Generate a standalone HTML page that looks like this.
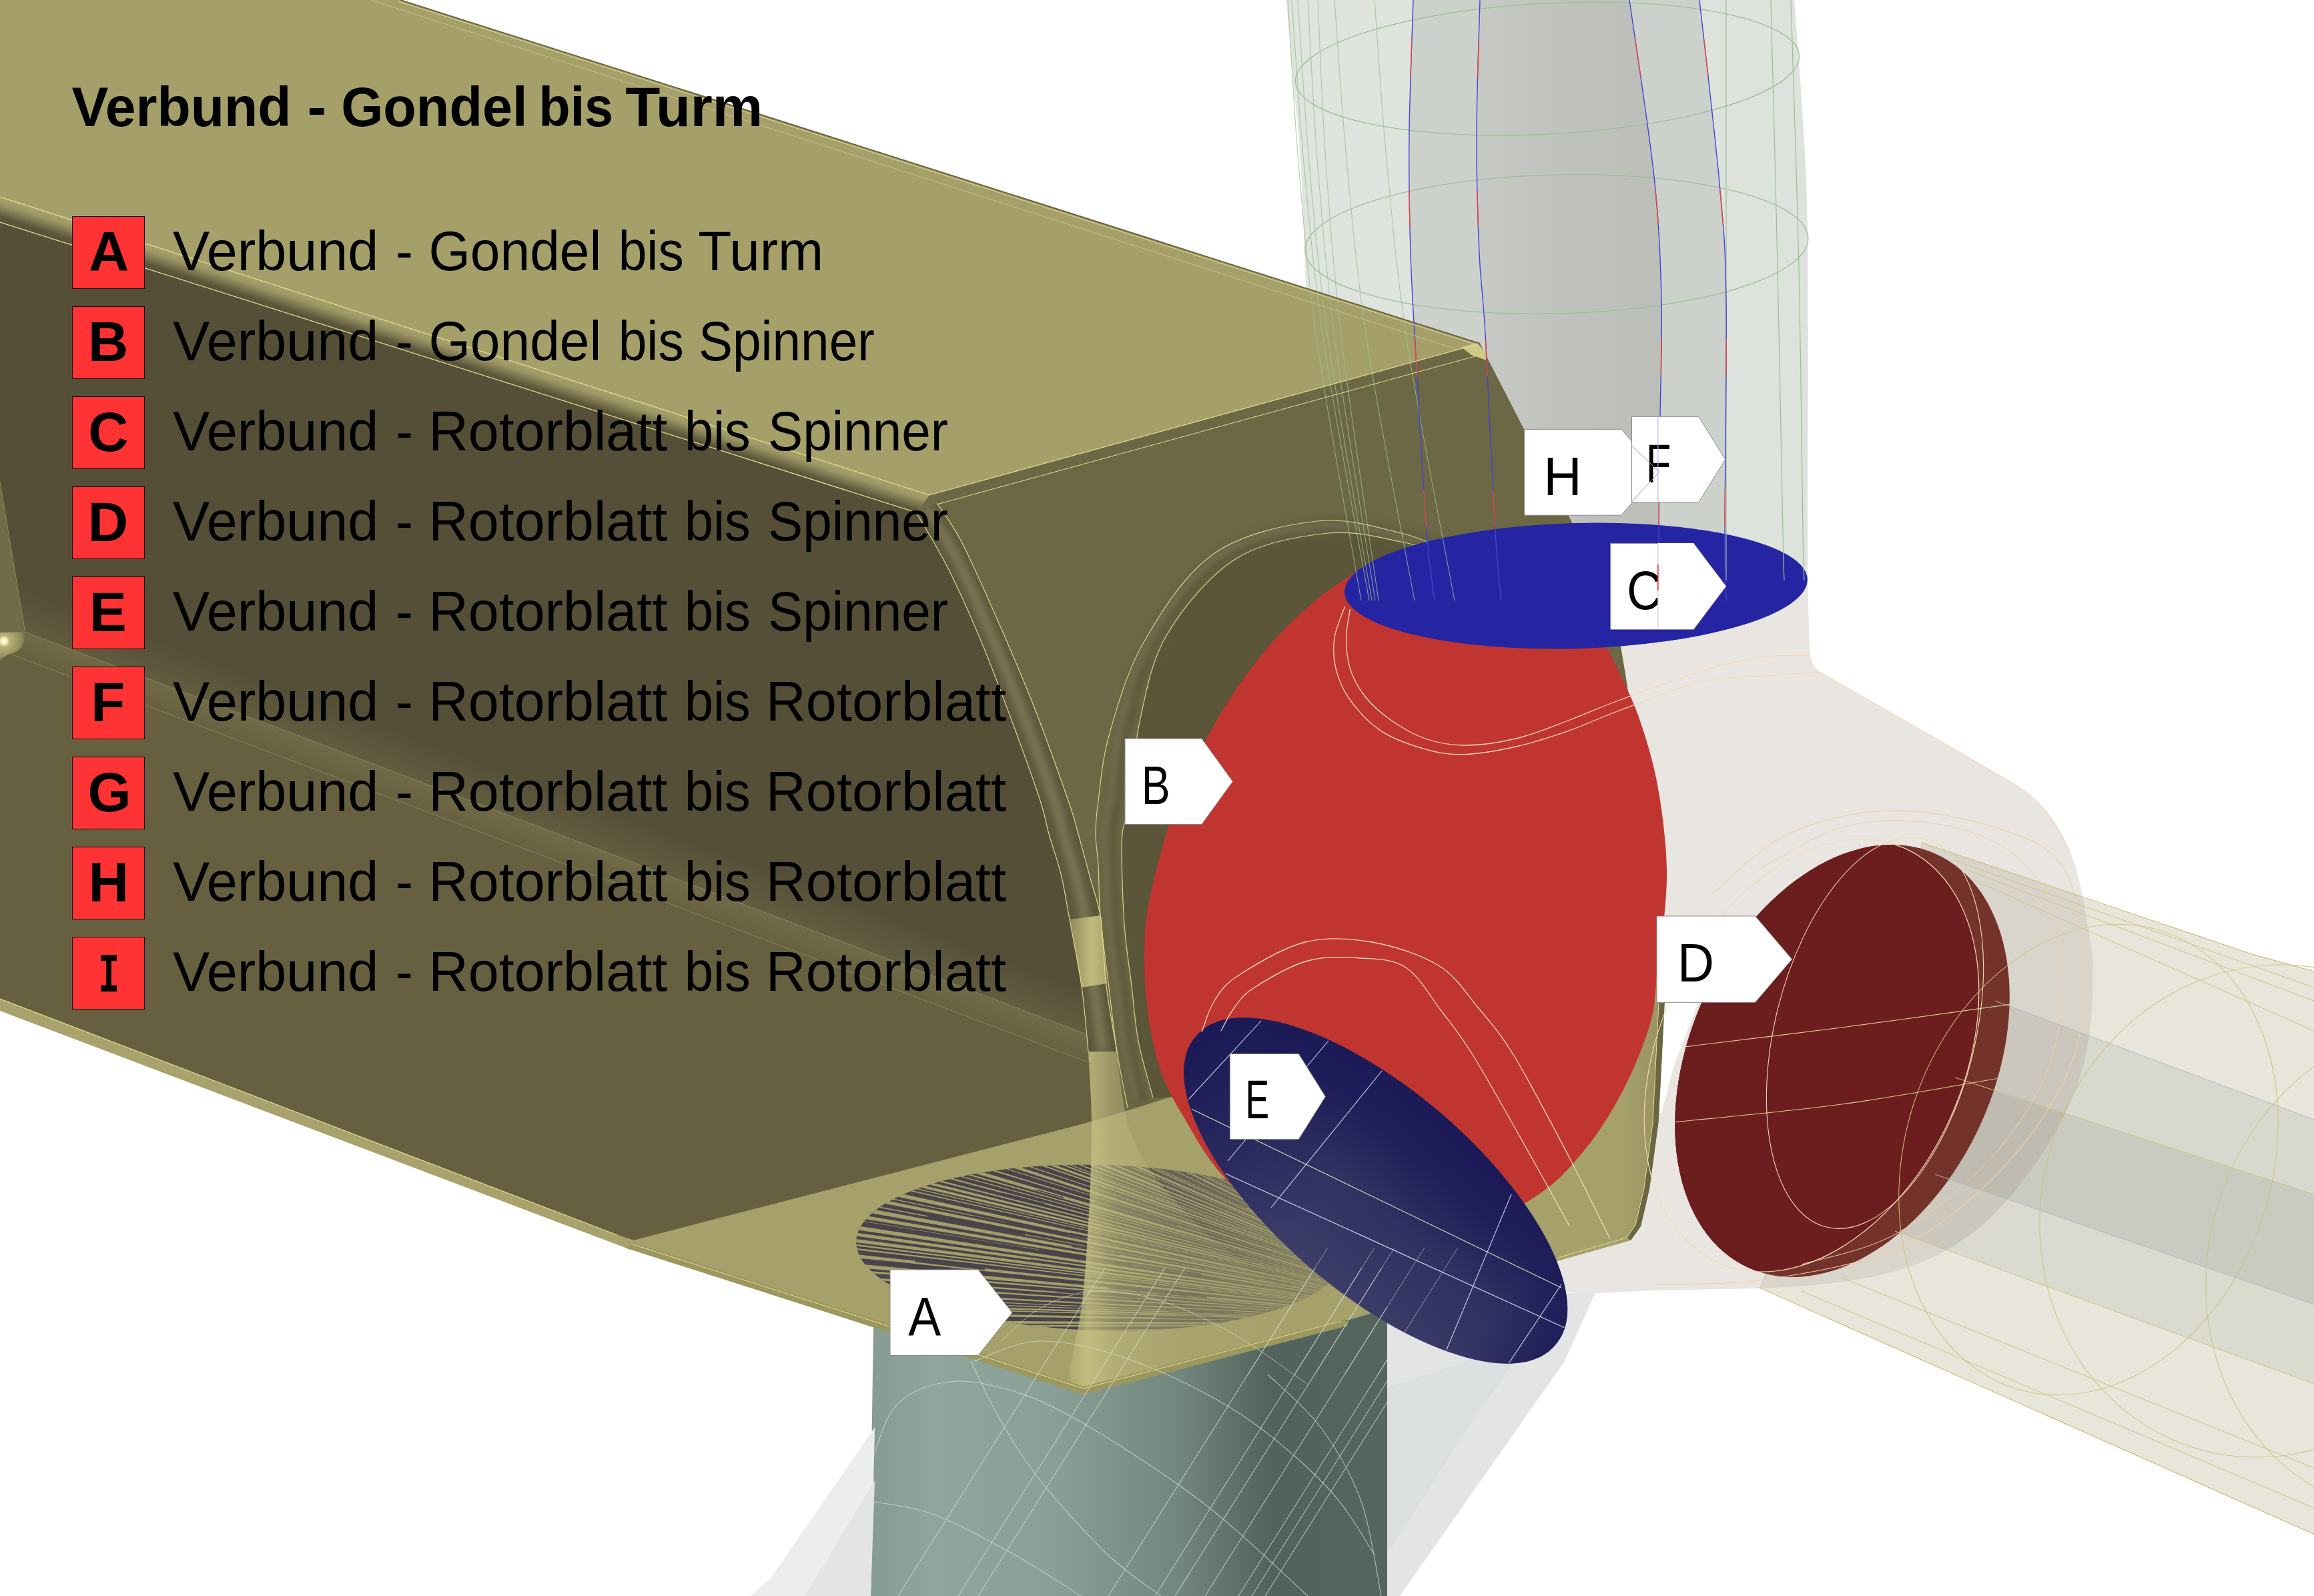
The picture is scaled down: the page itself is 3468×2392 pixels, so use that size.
<!DOCTYPE html>
<html lang="de"><head><meta charset="utf-8"><title>Verbund - Gondel bis Turm</title>
<style>
html,body{margin:0;padding:0;background:#fff;}
body{width:3468px;height:2392px;overflow:hidden;}
svg{display:block;}
text{font-family:"Liberation Sans",sans-serif;fill:#000;}
</style></head><body>
<svg width="3468" height="2392" viewBox="0 0 3468 2392">
<defs>
<linearGradient id="gTower" gradientUnits="userSpaceOnUse" x1="1305" y1="0" x2="2079" y2="0">
<stop offset="0" stop-color="#869c92"/><stop offset="0.12" stop-color="#8fa69c"/><stop offset="0.35" stop-color="#8aa096"/>
<stop offset="0.6" stop-color="#71867d"/><stop offset="0.78" stop-color="#51615b"/><stop offset="1" stop-color="#56665f"/>
</linearGradient>
<linearGradient id="gRidge" gradientUnits="userSpaceOnUse" x1="0" y1="295" x2="-12.5" y2="334">
<stop offset="0" stop-color="#a9a46d"/><stop offset="0.25" stop-color="#9a9563"/><stop offset="0.7" stop-color="#5b553b"/><stop offset="1" stop-color="#554f38"/>
</linearGradient>
<linearGradient id="gMid" gradientUnits="userSpaceOnUse" x1="0" y1="933" x2="-14.5" y2="971">
<stop offset="0" stop-color="#706a48"/><stop offset="1" stop-color="#676040"/>
</linearGradient>
<linearGradient id="gMidA" gradientUnits="userSpaceOnUse" x1="0" y1="933" x2="21" y2="877">
<stop offset="0" stop-color="#615b3f"/><stop offset="1" stop-color="#554f38"/>
</linearGradient>
<filter id="blur6" x="-20%" y="-20%" width="140%" height="140%"><feGaussianBlur stdDeviation="5"/></filter>
<linearGradient id="gE" gradientUnits="userSpaceOnUse" x1="2159.5" y1="1670.7" x2="1963.9" y2="1898.1">
<stop offset="0" stop-color="#1b1a57"/><stop offset="0.25" stop-color="#201f5a"/><stop offset="0.55" stop-color="#313162"/><stop offset="1" stop-color="#3d3d69"/>
</linearGradient>
<linearGradient id="gE2" gradientUnits="userSpaceOnUse" x1="1792.6" y1="1552.9" x2="2330.8" y2="2015.9">
<stop offset="0" stop-color="#1b1a57" stop-opacity="1"/><stop offset="0.22" stop-color="#1b1a57" stop-opacity="0.5"/><stop offset="0.42" stop-color="#1b1a57" stop-opacity="0"/><stop offset="0.86" stop-color="#1b1a57" stop-opacity="0.05"/><stop offset="1" stop-color="#1b1a57" stop-opacity="0.75"/>
</linearGradient>
<linearGradient id="gBladeTop" gradientUnits="userSpaceOnUse" x1="1928" y1="0" x2="2712" y2="0">
<stop offset="0" stop-color="#dfe4de"/><stop offset="1" stop-color="#dde2dc"/>
</linearGradient>
<linearGradient id="gCore" gradientUnits="userSpaceOnUse" x1="2216" y1="0" x2="2490" y2="0">
<stop offset="0" stop-color="#c6c9c4"/><stop offset="0.5" stop-color="#bfc2bc"/><stop offset="1" stop-color="#bcbfb9"/>
</linearGradient>
<linearGradient id="gAfade" gradientUnits="userSpaceOnUse" x1="1640" y1="0" x2="2020" y2="0">
<stop offset="0" stop-color="#a09b6c" stop-opacity="0"/><stop offset="0.25" stop-color="#a09b6c" stop-opacity="0.3"/><stop offset="1" stop-color="#a39e6c" stop-opacity="0.72"/>
</linearGradient>
<linearGradient id="gFlare" gradientUnits="userSpaceOnUse" x1="1600" y1="0" x2="1980" y2="0">
<stop offset="0" stop-color="#c6c182" stop-opacity="0.3"/><stop offset="0.08" stop-color="#c8c384" stop-opacity="0.8"/><stop offset="0.2" stop-color="#beb97c" stop-opacity="0.5"/><stop offset="0.45" stop-color="#b4af76" stop-opacity="0.22"/><stop offset="1" stop-color="#b0ab72" stop-opacity="0.05"/>
</linearGradient>
<linearGradient id="gPatch" gradientUnits="userSpaceOnUse" x1="1603" y1="0" x2="1659" y2="0">
<stop offset="0" stop-color="#8f8a5c"/><stop offset="0.6" stop-color="#c0bb7d"/><stop offset="1" stop-color="#a9a46d"/>
</linearGradient>
<linearGradient id="gOlR" gradientUnits="userSpaceOnUse" x1="2430" y1="0" x2="2490" y2="0">
<stop offset="0" stop-color="#8a8556" stop-opacity="0"/><stop offset="1" stop-color="#8a8556" stop-opacity="0.55"/>
</linearGradient>
<linearGradient id="gLeft" gradientUnits="userSpaceOnUse" x1="0" y1="0" x2="34" y2="-6">
<stop offset="0" stop-color="#716b4a"/><stop offset="1" stop-color="#554f38"/>
</linearGradient>
<radialGradient id="gSph" gradientUnits="userSpaceOnUse" cx="6" cy="961" r="34">
<stop offset="0" stop-color="#fffde0"/><stop offset="0.14" stop-color="#f3eeb8"/><stop offset="0.25" stop-color="#b9b277"/><stop offset="0.8" stop-color="#8d8759"/><stop offset="1" stop-color="#6d6746"/>
</radialGradient>
<linearGradient id="gFT" gradientUnits="userSpaceOnUse" x1="0" y1="0" x2="4.4" y2="16">
<stop offset="0" stop-color="#a09b66"/><stop offset="0.35" stop-color="#6a6542"/><stop offset="0.7" stop-color="#5f5a3c"/><stop offset="1" stop-color="#6c6744"/>
</linearGradient>
</defs>
<rect width="3468" height="2392" fill="#ffffff"/>
<path d="M1928.0,0.0C1929.7,20.0 1935.0,86.7 1938.0,120.0C1941.0,153.3 1943.7,170.0 1946.0,200.0C1948.3,230.0 1950.3,266.7 1952.0,300.0C1953.7,333.3 1954.7,363.3 1956.0,400.0C1957.3,436.7 1959.3,500.0 1960.0,520.0L2300,900 L2709,900 L2709.0,900.0C2709.0,882.8 2709.0,888.7 2709.0,797.0C2709.0,705.3 2710.5,457.8 2709.0,350.0C2707.5,242.2 2703.3,208.3 2700.0,150.0C2696.7,91.7 2690.8,25.0 2689.0,0.0Z" fill="url(#gBladeTop)" />
<path d="M2118.0,0.0C2117.0,33.3 2112.7,136.7 2112.0,200.0C2111.3,263.3 2112.2,321.7 2114.0,380.0C2115.8,438.3 2119.0,480.5 2123.0,550.0C2127.0,619.5 2133.5,738.7 2138.0,797.0C2142.5,855.3 2148.0,882.8 2150.0,900.0L2587,900 L2587.0,900.0C2586.7,882.8 2585.0,872.0 2585.0,797.0C2585.0,722.0 2588.3,537.0 2587.0,450.0C2585.7,363.0 2583.7,350.0 2577.0,275.0C2570.3,200.0 2552.0,45.8 2547.0,0.0Z" fill="#cdd1cc" />
<path d="M2218.0,0.0C2217.2,33.3 2213.2,136.7 2213.0,200.0C2212.8,263.3 2214.8,330.0 2217.0,380.0C2219.2,430.0 2222.0,430.5 2226.0,500.0C2230.0,569.5 2237.0,730.3 2241.0,797.0C2245.0,863.7 2248.5,882.8 2250.0,900.0L2486,900 L2486.0,900.0C2486.0,882.8 2485.7,842.8 2486.0,797.0C2486.3,751.2 2487.3,682.8 2488.0,625.0C2488.7,567.2 2491.5,510.0 2490.0,450.0C2488.5,390.0 2487.0,340.0 2479.0,265.0C2471.0,190.0 2448.2,44.2 2442.0,0.0Z" fill="url(#gCore)" />
<polygon points="2880.0,1263.0 3168.0,1360.0 3375.0,1430.0 3468.0,1456.0 3468.0,2299.5 2637.0,1930.0" fill="#e8e6db" />
<polygon points="2990.0,1500.0 3468.0,1678.0 3468.0,1790.0 2930.0,1615.0" fill="#d8d9ce" />
<polygon points="2930.0,1615.0 3468.0,1790.0 3468.0,1955.0 2900.0,1760.0" fill="#cacbc0" />
<polygon points="2900.0,1760.0 3468.0,1955.0 3468.0,2074.0 2840.0,1845.0" fill="#dadacf" />
<clipPath id="cpHub"><path d="M2400,870 L2709,870 L2712,975 Q2713,1000 2735,1012 L2962,1142 L2962.0,1142.0C2977.0,1151.7 3028.7,1177.8 3052.0,1200.0C3075.3,1222.2 3089.5,1245.8 3102.0,1275.0C3114.5,1304.2 3121.2,1344.0 3127.0,1375.0C3132.8,1406.0 3137.0,1427.5 3137.0,1461.0C3137.0,1494.5 3134.5,1540.2 3127.0,1576.0C3119.5,1611.8 3108.7,1642.7 3092.0,1676.0C3075.3,1709.3 3050.5,1746.7 3027.0,1776.0C3003.5,1805.3 2980.3,1831.0 2951.0,1852.0C2921.7,1873.0 2891.5,1889.5 2851.0,1902.0C2810.5,1914.5 2769.3,1921.7 2708.0,1927.0C2646.7,1932.3 2535.5,1932.2 2483.0,1934.0C2430.5,1935.8 2416.7,1937.7 2393.0,1938.0C2369.3,1938.3 2349.7,1936.3 2341.0,1936.0 L2300,1800 L2400,1000 Z"/></clipPath>
<path d="M2400,870 L2709,870 L2712,975 Q2713,1000 2735,1012 L2962,1142 L2962.0,1142.0C2977.0,1151.7 3028.7,1177.8 3052.0,1200.0C3075.3,1222.2 3089.5,1245.8 3102.0,1275.0C3114.5,1304.2 3121.2,1344.0 3127.0,1375.0C3132.8,1406.0 3137.0,1427.5 3137.0,1461.0C3137.0,1494.5 3134.5,1540.2 3127.0,1576.0C3119.5,1611.8 3108.7,1642.7 3092.0,1676.0C3075.3,1709.3 3050.5,1746.7 3027.0,1776.0C3003.5,1805.3 2980.3,1831.0 2951.0,1852.0C2921.7,1873.0 2891.5,1889.5 2851.0,1902.0C2810.5,1914.5 2769.3,1921.7 2708.0,1927.0C2646.7,1932.3 2535.5,1932.2 2483.0,1934.0C2430.5,1935.8 2416.7,1937.7 2393.0,1938.0C2369.3,1938.3 2349.7,1936.3 2341.0,1936.0 L2300,1800 L2400,1000 Z" fill="#e9e5e0" />
<g clip-path="url(#cpHub)">
<polygon points="2880.0,1263.0 3168.0,1360.0 3375.0,1430.0 3468.0,1456.0 3468.0,2299.5 2637.0,1930.0" fill="#d9d5cc" />
<polygon points="2990.0,1500.0 3468.0,1678.0 3468.0,1790.0 2930.0,1615.0" fill="#cbc7bd" />
<polygon points="2930.0,1615.0 3468.0,1790.0 3468.0,1955.0 2900.0,1760.0" fill="#bfbbb0" />
<polygon points="2900.0,1760.0 3468.0,1955.0 3468.0,2074.0 2840.0,1845.0" fill="#ccc8be" />
</g>
<polygon points="1311.0,1850.0 2079.0,1850.0 2079.0,2392.0 1303.0,2392.0" fill="url(#gTower)" />
<polygon points="2079.0,1960.0 2392.0,1935.0 2345.0,2040.0 2098.0,2392.0 2079.0,2392.0" fill="#e3e5e4" />
<polygon points="2079.0,2080.0 2290.0,2010.0 2200.0,2140.0 2079.0,2330.0" fill="#dcdfdf" />
<polygon points="1311.0,2139.0 1156.0,2364.0 1125.0,2392.0 1305.0,2392.0" fill="#eceded" />
<polygon points="1311.0,2219.0 1206.0,2392.0 1305.0,2392.0" fill="#e3e5e5" />
<polygon points="0.0,0.0 600.0,0.0 2218.0,515.0 1393.0,742.0 0.0,295.0" fill="#a5a06a" />
<polygon points="0.0,295.0 1393.0,742.0 1373.0,768.0 0.0,333.0" fill="url(#gRidge)" />
<polygon points="1393.0,742.0 1410.0,752.0 1425.0,800.0 1373.0,768.0" fill="#8a8558" />
<polygon points="1393.0,742.0 2218.0,515.0 2356.0,783.0 2418.0,905.0 2436.0,1010.0 2480.0,1300.0 2492.0,1432.0 1640.0,1680.0 1631.0,1585.0 1621.0,1478.0 1603.0,1378.0 1559.0,1200.0 1520.0,1080.0 1470.0,950.0 1420.0,840.0 1373.0,768.0" fill="#6c6744" />
<polygon points="1393.0,742.0 2218.0,515.0 2225.0,530.0 1404.0,758.0" fill="url(#gFT)" />
<polygon points="2190.0,520.0 2214.0,514.0 2226.0,528.0 2228.0,540.0 2205.0,532.0" fill="#cfc987" />
<path d="M0,333 L1373,768 L1373.0,768.0C1380.8,781.7 1403.8,818.0 1420.0,850.0C1436.2,882.0 1453.3,920.0 1470.0,960.0C1486.7,1000.0 1505.2,1050.0 1520.0,1090.0C1534.8,1130.0 1550.3,1173.3 1559.0,1200.0C1567.7,1226.7 1566.8,1231.7 1572.0,1250.0C1577.2,1268.3 1584.8,1288.7 1590.0,1310.0C1595.2,1331.3 1597.8,1350.0 1603.0,1378.0C1608.2,1406.0 1616.3,1445.0 1621.0,1478.0C1625.7,1511.0 1629.3,1559.7 1631.0,1576.0 L1631,1600 L0,933 Z" fill="#554f38" />
<clipPath id="cpUp"><path d="M0,333 L1373,768 L1373.0,768.0C1380.8,781.7 1403.8,818.0 1420.0,850.0C1436.2,882.0 1453.3,920.0 1470.0,960.0C1486.7,1000.0 1505.2,1050.0 1520.0,1090.0C1534.8,1130.0 1550.3,1173.3 1559.0,1200.0C1567.7,1226.7 1566.8,1231.7 1572.0,1250.0C1577.2,1268.3 1584.8,1288.7 1590.0,1310.0C1595.2,1331.3 1597.8,1350.0 1603.0,1378.0C1608.2,1406.0 1616.3,1445.0 1621.0,1478.0C1625.7,1511.0 1629.3,1559.7 1631.0,1576.0 L1636,1680 L0,1000 Z"/></clipPath>
<g clip-path="url(#cpUp)">
<polygon points="0.0,873.0 1700.0,1517.0 1700.0,1577.0 0.0,933.0" fill="url(#gMidA)" />
<polygon points="0.0,933.0 1700.0,1577.0 1700.0,1700.0 0.0,1000.0" fill="#676040" />
<polygon points="0.0,933.0 1700.0,1577.0 1700.0,1618.0 0.0,974.0" fill="url(#gMid)" />
</g>
<polygon points="0.0,974.0 1636.0,1594.0 1640.0,1680.0 970.0,1866.0 925.0,1851.0 0.0,1497.0" fill="#676040" />
<path d="M1373.0,768.0C1380.8,781.7 1403.8,818.0 1420.0,850.0C1436.2,882.0 1453.3,920.0 1470.0,960.0C1486.7,1000.0 1505.2,1050.0 1520.0,1090.0C1534.8,1130.0 1550.3,1173.3 1559.0,1200.0C1567.7,1226.7 1566.8,1231.7 1572.0,1250.0C1577.2,1268.3 1584.8,1288.7 1590.0,1310.0C1595.2,1331.3 1597.8,1350.0 1603.0,1378.0C1608.2,1406.0 1616.3,1445.0 1621.0,1478.0C1625.7,1511.0 1629.3,1559.7 1631.0,1576.0 L1674,1576 L1674.0,1576.0C1671.3,1559.7 1662.0,1511.0 1658.0,1478.0C1654.0,1445.0 1653.8,1404.3 1650.0,1378.0C1646.2,1351.7 1640.7,1341.3 1635.0,1320.0C1629.3,1298.7 1621.7,1270.0 1616.0,1250.0C1610.3,1230.0 1612.0,1231.7 1601.0,1200.0C1590.0,1168.3 1567.8,1105.5 1550.0,1060.0C1532.2,1014.5 1512.3,968.7 1494.0,927.0C1475.7,885.3 1455.0,838.8 1440.0,810.0C1425.0,781.2 1410.0,763.3 1404.0,754.0 Z" fill="#5e583d" />
<path d="M1388.5,761.0C1395.4,772.5 1414.4,799.6 1430.0,830.0C1445.6,860.4 1464.5,902.7 1482.0,943.5C1499.5,984.3 1518.7,1032.2 1535.0,1075.0C1551.3,1117.8 1570.2,1170.8 1580.0,1200.0C1589.8,1229.2 1588.6,1230.8 1594.0,1250.0C1599.4,1269.2 1607.1,1293.7 1612.5,1315.0C1617.9,1336.3 1622.0,1350.8 1626.5,1378.0C1631.0,1405.2 1635.2,1445.0 1639.5,1478.0C1643.8,1511.0 1650.3,1559.7 1652.5,1576.0" fill="none" stroke="#7b7655" stroke-width="16" filter="url(#blur6)" opacity="0.9"/>
<polygon points="0.0,722.0 37.6,947.0 15.0,980.0 0.0,985.0" fill="url(#gLeft)" />
<path d="M37.6,947 Q38,975 15,980 Q4,984 0,990 L0,948 Z" fill="url(#gSph)"/>
<path d="M0.0,722.0 L37.6,947.0" fill="none" stroke="#8e8858" stroke-width="1.0" />
<polygon points="0.0,1497.0 925.0,1851.0 975.0,1868.0 945.0,1873.0 0.0,1515.0" fill="#a8a26c" />
<polygon points="945.0,1860.0 1640.0,1680.0 1780.0,1636.0 2492.0,1432.0 2495.0,1503.0 2485.5,1682.0 2472.0,1782.0 2459.0,1838.0 2444.0,1859.0 1624.0,2090.0 940.0,1871.0" fill="#a6a16b" />
<path d="M2160.0,830.0C2150.0,827.0 2128.2,817.2 2100.0,812.0C2071.8,806.8 2032.2,794.8 1991.0,799.0C1949.8,803.2 1893.3,811.7 1853.0,837.0C1812.7,862.3 1773.2,910.2 1749.0,951.0C1724.8,991.8 1717.2,1040.5 1708.0,1082.0C1698.8,1123.5 1698.3,1172.0 1694.0,1200.0C1689.7,1228.0 1684.0,1230.0 1682.0,1250.0C1680.0,1270.0 1681.3,1295.5 1682.0,1320.0C1682.7,1344.5 1683.7,1370.7 1686.0,1397.0C1688.3,1423.3 1692.7,1450.8 1696.0,1478.0C1699.3,1505.2 1700.7,1532.2 1706.0,1560.0C1711.3,1587.8 1724.3,1630.8 1728.0,1645.0 L1900,1640 L2100,1000 Z" fill="#5b5539" />
<path d="M2165.0,828.0C2154.2,824.2 2130.4,811.8 2100.0,805.5C2069.6,799.2 2026.5,785.3 1982.5,790.0C1938.5,794.7 1877.8,805.8 1836.0,833.5C1794.2,861.2 1757.1,913.2 1732.0,956.0C1706.9,998.8 1695.8,1049.8 1685.5,1090.5C1675.2,1131.2 1673.9,1173.4 1670.0,1200.0C1666.1,1226.6 1663.0,1231.9 1662.0,1250.0C1661.0,1268.1 1663.1,1286.1 1664.0,1308.5C1664.9,1330.9 1665.1,1356.8 1667.5,1384.5C1669.9,1412.2 1674.8,1444.4 1678.5,1475.0C1682.2,1505.6 1684.9,1538.4 1690.0,1568.0C1695.1,1597.6 1705.8,1638.4 1709.0,1652.5" fill="none" stroke="#5f5a3d" stroke-width="26" filter="url(#blur6)" opacity="0.9"/>
<path d="M2159.0,825.0C2148.2,821.2 2124.4,808.8 2094.0,802.5C2063.6,796.2 2020.5,782.3 1976.5,787.0C1932.5,791.7 1871.8,802.8 1830.0,830.5C1788.2,858.2 1751.1,910.2 1726.0,953.0C1700.9,995.8 1689.8,1046.8 1679.5,1087.5C1669.2,1128.2 1667.9,1170.4 1664.0,1197.0C1660.1,1223.6 1657.0,1228.9 1656.0,1247.0C1655.0,1265.1 1657.1,1283.1 1658.0,1305.5C1658.9,1327.9 1659.1,1353.8 1661.5,1381.5C1663.9,1409.2 1668.8,1441.4 1672.5,1472.0C1676.2,1502.6 1678.9,1535.4 1684.0,1565.0C1689.1,1594.6 1699.8,1635.4 1703.0,1649.5" fill="none" stroke="#7b7658" stroke-width="7" filter="url(#blur6)" opacity="0.9"/>
<path d="M2170.0,826.0C2158.3,821.5 2132.7,806.5 2100.0,799.0C2067.3,791.5 2020.8,775.8 1974.0,781.0C1927.2,786.2 1862.2,800.0 1819.0,830.0C1775.8,860.0 1741.0,916.2 1715.0,961.0C1689.0,1005.8 1674.5,1059.2 1663.0,1099.0C1651.5,1138.8 1649.5,1174.8 1646.0,1200.0C1642.5,1225.2 1642.0,1233.8 1642.0,1250.0C1642.0,1266.2 1644.8,1276.7 1646.0,1297.0C1647.2,1317.3 1646.5,1342.8 1649.0,1372.0C1651.5,1401.2 1656.8,1438.0 1661.0,1472.0C1665.2,1506.0 1669.2,1544.7 1674.0,1576.0C1678.8,1607.3 1687.3,1646.0 1690.0,1660.0" fill="none" stroke="#d8d08a" stroke-width="1.2" />
<path d="M2160.0,830.0C2150.0,827.0 2128.2,817.2 2100.0,812.0C2071.8,806.8 2032.2,794.8 1991.0,799.0C1949.8,803.2 1893.3,811.7 1853.0,837.0C1812.7,862.3 1773.2,910.2 1749.0,951.0C1724.8,991.8 1717.2,1040.5 1708.0,1082.0C1698.8,1123.5 1698.3,1172.0 1694.0,1200.0C1689.7,1228.0 1684.0,1230.0 1682.0,1250.0C1680.0,1270.0 1681.3,1295.5 1682.0,1320.0C1682.7,1344.5 1683.7,1370.7 1686.0,1397.0C1688.3,1423.3 1692.7,1450.8 1696.0,1478.0C1699.3,1505.2 1700.7,1532.2 1706.0,1560.0C1711.3,1587.8 1724.3,1630.8 1728.0,1645.0" fill="none" stroke="#d8d08a" stroke-width="1.2" />
<clipPath id="cpA"><ellipse cx="1650" cy="1870" rx="367" ry="124" transform="rotate(1.5 1650 1870)"/></clipPath>
<ellipse cx="1650" cy="1870" rx="367" ry="124" transform="rotate(1.5 1650 1870)" fill="#49434a"/>
<g clip-path="url(#cpA)">
<path d="M2250,1985L1103,2065L1103,2061ZM2250,1985L1102,2055L1102,2048ZM2250,1985L1101,2042L1101,2038ZM2250,1985L1101,2031L1101,2029ZM2250,1985L1101,2022L1100,2017ZM2250,1985L1100,2009L1100,2007ZM2250,1985L1100,2002L1100,2000ZM2250,1985L1100,1991L1100,1986ZM2250,1985L1100,1983L1100,1977ZM2250,1985L1100,1967L1100,1962ZM2250,1985L1100,1955L1100,1952ZM2250,1985L1101,1950L1101,1946ZM2250,1985L1101,1943L1101,1940ZM2250,1985L1101,1936L1101,1934ZM2250,1985L1101,1928L1102,1924ZM2250,1985L1102,1915L1102,1911ZM2250,1985L1103,1904L1103,1900ZM2250,1985L1104,1892L1104,1888ZM2250,1985L1104,1884L1105,1877ZM2250,1985L1106,1867L1107,1861ZM2250,1985L1108,1853L1108,1850ZM2250,1985L1108,1846L1109,1843ZM2250,1985L1109,1840L1110,1834ZM2250,1985L1111,1829L1111,1823ZM2250,1985L1112,1818L1113,1811ZM2250,1985L1115,1802L1115,1801ZM2250,1985L1116,1797L1117,1791ZM2250,1985L1118,1785L1119,1778ZM2250,1985L1120,1773L1120,1771ZM2250,1985L1122,1764L1123,1758ZM2250,1985L1124,1754L1124,1752ZM2250,1985L1125,1747L1126,1740ZM2250,1985L1128,1732L1129,1730ZM2250,1985L1130,1726L1130,1724ZM2250,1985L1131,1721L1132,1716ZM2250,1985L1133,1712L1134,1707ZM2250,1985L1135,1702L1136,1699ZM2250,1985L1138,1692L1139,1689ZM2250,1985L1141,1682L1141,1680ZM2250,1985L1143,1675L1143,1672ZM2250,1985L1145,1668L1146,1661ZM2250,1985L1149,1653L1150,1650ZM2250,1985L1153,1641L1153,1639ZM2250,1985L1155,1634L1157,1628ZM2250,1985L1159,1621L1160,1619ZM2250,1985L1163,1610L1164,1607ZM2250,1985L1165,1603L1167,1598ZM2250,1985L1169,1593L1170,1590ZM2250,1985L1171,1587L1172,1585ZM2250,1985L1174,1579L1175,1576ZM2250,1985L1178,1570L1179,1566ZM2250,1985L1181,1561L1184,1555ZM2250,1985L1186,1549L1188,1545ZM2250,1985L1191,1536L1192,1534ZM2250,1985L1194,1531L1196,1525ZM2250,1985L1200,1517L1201,1514ZM2250,1985L1202,1511L1205,1506ZM2250,1985L1209,1497L1210,1495ZM2250,1985L1214,1486L1217,1481ZM2250,1985L1220,1474L1221,1471ZM2250,1985L1223,1468L1224,1466ZM2250,1985L1228,1458L1229,1455ZM2250,1985L1233,1448L1234,1446ZM2250,1985L1238,1438L1241,1434ZM2250,1985L1243,1430L1244,1428ZM2250,1985L1248,1421L1249,1419ZM2250,1985L1251,1415L1253,1411ZM2250,1985L1258,1404L1260,1400ZM2250,1985L1262,1396L1266,1390ZM2250,1985L1268,1387L1269,1385ZM2250,1985L1271,1382L1273,1378ZM2250,1985L1275,1376L1276,1374ZM2250,1985L1279,1369L1281,1365ZM2250,1985L1283,1362L1285,1360ZM2250,1985L1290,1352L1294,1346ZM2250,1985L1298,1340L1301,1336ZM2250,1985L1305,1330L1306,1328ZM2250,1985L1308,1326L1309,1325ZM2250,1985L1314,1317L1317,1313Z" fill="#a39e69"/>
<line x1="1550" y1="2000" x2="1452" y2="2002" stroke="#49434a" stroke-width="3"/>
<line x1="1830" y1="1917" x2="1782" y2="1909" stroke="#49434a" stroke-width="2"/>
<line x1="1530" y1="1756" x2="1389" y2="1711" stroke="#49434a" stroke-width="3"/>
<line x1="1867" y1="1810" x2="1725" y2="1745" stroke="#49434a" stroke-width="2"/>
<line x1="1536" y1="1850" x2="1390" y2="1823" stroke="#49434a" stroke-width="2"/>
<line x1="1939" y1="1791" x2="1854" y2="1738" stroke="#49434a" stroke-width="1.5"/>
<line x1="1725" y1="1789" x2="1622" y2="1750" stroke="#49434a" stroke-width="3"/>
<line x1="1850" y1="1981" x2="1796" y2="1980" stroke="#49434a" stroke-width="2"/>
<line x1="1598" y1="1613" x2="1523" y2="1571" stroke="#49434a" stroke-width="3"/>
<line x1="1696" y1="1750" x2="1608" y2="1713" stroke="#49434a" stroke-width="3"/>
<line x1="1488" y1="1971" x2="1444" y2="1971" stroke="#49434a" stroke-width="3"/>
<line x1="1888" y1="1978" x2="1733" y2="1975" stroke="#49434a" stroke-width="1.5"/>
<line x1="1588" y1="1797" x2="1444" y2="1755" stroke="#49434a" stroke-width="2"/>
<line x1="1773" y1="1707" x2="1724" y2="1678" stroke="#49434a" stroke-width="3"/>
<line x1="1809" y1="1944" x2="1661" y2="1930" stroke="#49434a" stroke-width="3"/>
<line x1="1718" y1="1659" x2="1659" y2="1623" stroke="#49434a" stroke-width="2"/>
<line x1="1824" y1="1813" x2="1739" y2="1779" stroke="#49434a" stroke-width="1.5"/>
<line x1="1762" y1="1707" x2="1667" y2="1652" stroke="#49434a" stroke-width="2"/>
<line x1="1828" y1="1944" x2="1746" y2="1936" stroke="#49434a" stroke-width="1.5"/>
<line x1="1450" y1="1636" x2="1383" y2="1606" stroke="#49434a" stroke-width="1.5"/>
<line x1="1641" y1="1963" x2="1490" y2="1958" stroke="#49434a" stroke-width="2"/>
<line x1="1627" y1="1855" x2="1509" y2="1831" stroke="#49434a" stroke-width="3"/>
<line x1="1466" y1="1564" x2="1382" y2="1520" stroke="#49434a" stroke-width="1.5"/>
<line x1="1805" y1="1750" x2="1705" y2="1697" stroke="#49434a" stroke-width="3"/>
<line x1="1641" y1="1720" x2="1571" y2="1689" stroke="#49434a" stroke-width="3"/>
<line x1="1825" y1="1995" x2="1731" y2="1997" stroke="#49434a" stroke-width="1.5"/>
<line x1="1803" y1="1770" x2="1682" y2="1712" stroke="#49434a" stroke-width="1.5"/>
<line x1="1905" y1="1757" x2="1861" y2="1728" stroke="#49434a" stroke-width="3"/>
<line x1="1512" y1="1693" x2="1367" y2="1636" stroke="#49434a" stroke-width="3"/>
<line x1="1450" y1="1913" x2="1380" y2="1907" stroke="#49434a" stroke-width="3"/>
<line x1="1641" y1="2002" x2="1515" y2="2006" stroke="#49434a" stroke-width="1.5"/>
<line x1="1476" y1="1902" x2="1372" y2="1890" stroke="#49434a" stroke-width="3"/>
<line x1="1387" y1="1737" x2="1330" y2="1721" stroke="#49434a" stroke-width="3"/>
<line x1="1908" y1="1782" x2="1777" y2="1705" stroke="#49434a" stroke-width="3"/>
<line x1="1665" y1="1861" x2="1603" y2="1848" stroke="#49434a" stroke-width="1.5"/>
<line x1="1601" y1="1852" x2="1458" y2="1823" stroke="#49434a" stroke-width="2"/>
<line x1="1565" y1="1805" x2="1502" y2="1789" stroke="#49434a" stroke-width="3"/>
<line x1="1561" y1="1600" x2="1429" y2="1527" stroke="#49434a" stroke-width="1.5"/>
<line x1="1409" y1="1901" x2="1252" y2="1886" stroke="#49434a" stroke-width="2"/>
<line x1="1501" y1="1751" x2="1426" y2="1728" stroke="#49434a" stroke-width="3"/>
<line x1="1775" y1="1724" x2="1732" y2="1700" stroke="#49434a" stroke-width="2"/>
<line x1="1678" y1="1881" x2="1606" y2="1868" stroke="#49434a" stroke-width="1.5"/>
<line x1="1427" y1="1901" x2="1336" y2="1891" stroke="#49434a" stroke-width="1.5"/>
<line x1="1717" y1="1946" x2="1583" y2="1936" stroke="#49434a" stroke-width="1.5"/>
<line x1="1381" y1="1753" x2="1237" y2="1715" stroke="#49434a" stroke-width="3"/>
<line x1="1608" y1="1640" x2="1472" y2="1567" stroke="#49434a" stroke-width="2"/>
<line x1="1560" y1="1750" x2="1436" y2="1707" stroke="#49434a" stroke-width="2"/>
<line x1="1763" y1="1836" x2="1641" y2="1799" stroke="#49434a" stroke-width="3"/>
<line x1="1619" y1="1942" x2="1470" y2="1932" stroke="#49434a" stroke-width="2"/>
<line x1="1698" y1="1895" x2="1558" y2="1873" stroke="#49434a" stroke-width="3"/>
<line x1="1436" y1="1907" x2="1280" y2="1892" stroke="#49434a" stroke-width="3"/>
<line x1="1632" y1="1900" x2="1544" y2="1888" stroke="#49434a" stroke-width="1.5"/>
<line x1="1594" y1="1795" x2="1552" y2="1783" stroke="#49434a" stroke-width="1.5"/>
<line x1="1703" y1="1822" x2="1573" y2="1783" stroke="#49434a" stroke-width="3"/>
<line x1="1849" y1="1968" x2="1789" y2="1966" stroke="#49434a" stroke-width="3"/>
<line x1="1421" y1="1770" x2="1289" y2="1736" stroke="#49434a" stroke-width="2"/>
<line x1="1645" y1="1903" x2="1591" y2="1896" stroke="#49434a" stroke-width="2"/>
<line x1="1504" y1="1547" x2="1375" y2="1471" stroke="#49434a" stroke-width="3"/>
<line x1="1801" y1="1910" x2="1688" y2="1892" stroke="#49434a" stroke-width="2"/>
<line x1="1472" y1="1949" x2="1430" y2="1947" stroke="#49434a" stroke-width="1.5"/>
<rect x="1640" y="1700" width="450" height="320" fill="url(#gAfade)"/>
</g>
<path d="M1631.0,1576.0C1631.8,1593.3 1635.7,1642.7 1636.0,1680.0C1636.3,1717.3 1635.3,1755.0 1633.0,1800.0C1630.7,1845.0 1626.8,1908.3 1622.0,1950.0C1617.2,1991.7 1606.3,2028.7 1604.0,2050.0C1601.7,2071.3 1604.7,2071.3 1608.0,2078.0C1611.3,2084.7 1621.3,2088.0 1624.0,2090.0 L2010,1985 L2010.0,1985.0C2004.7,1980.5 1996.3,1969.0 1978.0,1958.0C1959.7,1947.0 1926.0,1935.2 1900.0,1919.0C1874.0,1902.8 1844.7,1880.3 1822.0,1861.0C1799.3,1841.7 1781.5,1822.5 1764.0,1803.0C1746.5,1783.5 1729.0,1762.8 1717.0,1744.0C1705.0,1725.2 1697.8,1707.3 1692.0,1690.0C1686.2,1672.7 1685.0,1659.0 1682.0,1640.0C1679.0,1621.0 1675.3,1586.7 1674.0,1576.0 Z" fill="url(#gFlare)" />
<polygon points="1603.0,1378.0 1650.0,1372.0 1659.0,1474.0 1621.0,1480.0" fill="url(#gPatch)" />
<polygon points="940.0,1871.0 1624.0,2090.0 1624.0,2078.0 948.0,1862.0" fill="#9c975f" />
<polygon points="1624.0,2090.0 2020.0,1987.0 2016.0,1977.0 1624.0,2078.0" fill="#9c975f" />
<polygon points="2495.0,1503.0 2485.5,1682.0 2472.0,1782.0 2459.0,1838.0 2444.0,1859.0 2400.0,1872.0 2430.0,1700.0 2462.0,1503.0" fill="url(#gOlR)" />
<polygon points="2495.0,1503.0 2485.5,1682.0 2472.0,1782.0 2459.0,1838.0 2444.0,1859.0 2438.0,1855.0 2451.0,1836.0 2464.0,1781.0 2477.0,1682.0 2486.0,1503.0" fill="#6a6542" />
<path d="M2486.0,1503.0 L2477.0,1682.0 L2464.0,1781.0 L2451.0,1836.0 L2438.0,1855.0 L2335.0,1885.0" fill="none" stroke="#e6de8e" stroke-width="1.0" />
<path d="M2015.6,868.0C1994.1,881.5 1979.8,892.5 1961.0,909.0C1942.2,925.5 1922.2,944.3 1902.8,967.0C1883.4,989.7 1862.6,1017.1 1844.5,1045.0C1826.4,1072.9 1808.9,1104.0 1794.0,1134.5C1779.1,1165.0 1766.0,1196.2 1755.0,1228.0C1744.0,1259.8 1734.3,1296.3 1727.8,1325.0C1721.3,1353.7 1717.6,1371.3 1716.0,1400.0C1714.4,1428.7 1714.7,1464.7 1718.0,1497.0C1721.3,1529.3 1727.2,1565.3 1736.0,1594.0C1744.8,1622.7 1753.7,1639.7 1771.0,1669.0C1788.3,1698.3 1808.5,1738.2 1840.0,1770.0C1871.5,1801.8 1913.3,1841.7 1960.0,1860.0C2006.7,1878.3 2064.9,1890.0 2120.0,1880.0C2175.1,1870.0 2248.6,1825.5 2290.6,1800.0C2332.6,1774.5 2348.3,1754.8 2372.0,1727.0C2395.7,1699.2 2416.0,1665.7 2433.0,1633.0C2450.0,1600.3 2465.5,1561.5 2474.0,1531.0C2482.5,1500.5 2480.7,1475.9 2484.0,1450.0C2487.3,1424.1 2491.7,1399.7 2494.0,1375.6C2496.3,1351.5 2498.3,1330.2 2498.0,1305.6C2497.7,1281.0 2495.2,1253.9 2492.0,1228.0C2488.8,1202.1 2484.7,1176.0 2478.5,1150.0C2472.3,1124.0 2463.4,1095.3 2455.0,1072.0C2446.6,1048.7 2435.8,1026.8 2428.0,1010.0C2420.2,993.2 2418.2,989.3 2408.5,971.0C2398.8,952.7 2388.1,921.8 2370.0,900.0C2351.9,878.2 2331.7,854.2 2300.0,840.0C2268.3,825.8 2215.0,817.0 2180.0,815.0C2145.0,813.0 2117.4,819.2 2090.0,828.0C2062.6,836.8 2037.1,854.5 2015.6,868.0Z" fill="#c13530" />
<ellipse cx="2362" cy="878" rx="347" ry="94" transform="rotate(-1.6 2362 878)" fill="#2525a3"/>
<ellipse id="eD" cx="2761" cy="1590" rx="228" ry="340.5" transform="rotate(24.4 2761 1590)" fill="#73322a"/>
<clipPath id="cpD"><ellipse cx="2761" cy="1590" rx="228" ry="340.5" transform="rotate(24.4 2761 1590)"/></clipPath>
<g clip-path="url(#cpD)"><ellipse cx="2715" cy="1582" rx="228" ry="340.5" transform="rotate(24.4 2715 1582)" fill="#6c1e1e"/></g>
<path d="M2330.8,2015.9A355,150 40.7 1 0 1792.6,1552.9A355,150 40.7 1 0 2330.8,2015.9Z" fill="url(#gE)" />
<path d="M2330.8,2015.9A355,150 40.7 1 0 1792.6,1552.9A355,150 40.7 1 0 2330.8,2015.9Z" fill="url(#gE2)" />
<polygon points="2495.0,1502.0 2545.0,1502.0 2508.0,1600.0 2490.0,1668.0 2487.0,1668.0" fill="#ffffff" />
<ellipse cx="2319" cy="103" rx="378" ry="98" transform="rotate(-3 2319 103)" fill="none" stroke="#9bbf93" stroke-width="1.3"/>
<ellipse cx="2333" cy="366" rx="377" ry="104" transform="rotate(-1.4 2333 366)" fill="none" stroke="#9bbf93" stroke-width="1.3"/>
<path d="M2587.0,0.0 L2587.0,870.0" fill="none" stroke="#9bbf93" stroke-width="1.2" />
<path d="M2654.0,0.0C2655.7,66.7 2661.0,267.2 2664.0,400.0C2667.0,532.8 2670.3,718.7 2672.0,797.0C2673.7,875.3 2673.7,857.8 2674.0,870.0" fill="none" stroke="#9bbf93" stroke-width="1.2" />
<path d="M2684.0,0.0C2686.0,66.7 2693.0,267.2 2696.0,400.0C2699.0,532.8 2700.7,718.7 2702.0,797.0C2703.3,875.3 2703.7,857.8 2704.0,870.0" fill="none" stroke="#9bbf93" stroke-width="1.2" />
<path d="M1930.0,0.0C1932.8,41.7 1939.0,163.3 1946.5,250.0C1954.0,336.7 1959.4,411.7 1975.0,520.0C1990.6,628.3 2029.2,836.7 2040.0,900.0" fill="none" stroke="#9bbf93" stroke-width="1.1" opacity="0.8"/>
<path d="M1936.0,0.0C1939.1,41.7 1946.3,163.3 1954.5,250.0C1962.7,336.7 1968.8,411.7 1985.0,520.0C2001.2,628.3 2040.8,836.7 2052.0,900.0" fill="none" stroke="#9bbf93" stroke-width="1.1" opacity="0.8"/>
<path d="M1945.0,0.0C1947.9,41.7 1954.7,163.3 1962.5,250.0C1970.3,336.7 1976.4,411.7 1992.0,520.0C2007.6,628.3 2045.3,836.7 2056.0,900.0" fill="none" stroke="#9bbf93" stroke-width="1.1" opacity="0.8"/>
<path d="M1960.0,0.0C1962.5,41.7 1968.0,163.3 1975.0,250.0C1982.0,336.7 1987.7,411.7 2002.0,520.0C2016.3,628.3 2051.2,836.7 2061.0,900.0" fill="none" stroke="#9bbf93" stroke-width="1.1" opacity="0.8"/>
<path d="M1975.0,0.0C1977.1,41.7 1981.3,163.3 1987.5,250.0C1993.7,336.7 1998.9,411.7 2012.0,520.0C2025.1,628.3 2057.0,836.7 2066.0,900.0" fill="none" stroke="#9bbf93" stroke-width="1.1" opacity="0.8"/>
<path d="M2000.0,0.0C2003.2,41.7 2010.7,163.3 2019.0,250.0C2027.3,336.7 2033.2,411.7 2050.0,520.0C2066.8,628.3 2108.3,836.7 2120.0,900.0" fill="none" stroke="#9bbf93" stroke-width="1.1" opacity="0.8"/>
<path d="M2060.0,0.0C2063.2,41.7 2070.7,163.3 2079.0,250.0C2087.3,336.7 2093.2,411.7 2110.0,520.0C2126.8,628.3 2168.3,836.7 2180.0,900.0" fill="none" stroke="#9bbf93" stroke-width="1.1" opacity="0.8"/>
<path d="M2118.0,0.0C2117.0,33.3 2112.7,136.7 2112.0,200.0C2111.3,263.3 2112.2,321.7 2114.0,380.0C2115.8,438.3 2119.0,480.5 2123.0,550.0C2127.0,619.5 2133.5,738.7 2138.0,797.0C2142.5,855.3 2148.0,882.8 2150.0,900.0" fill="none" stroke="#4343d6" stroke-width="1.4" />
<path d="M2118.0,0.0C2117.0,33.3 2112.7,136.7 2112.0,200.0C2111.3,263.3 2112.2,321.7 2114.0,380.0C2115.8,438.3 2119.0,480.5 2123.0,550.0C2127.0,619.5 2133.5,738.7 2138.0,797.0C2142.5,855.3 2148.0,882.8 2150.0,900.0" fill="none" stroke="#e4493c" stroke-width="1.4" stroke-dasharray="55 170" stroke-dashoffset="-60"/>
<path d="M2218.0,0.0C2217.2,33.3 2213.2,136.7 2213.0,200.0C2212.8,263.3 2214.8,330.0 2217.0,380.0C2219.2,430.0 2222.0,430.5 2226.0,500.0C2230.0,569.5 2237.0,730.3 2241.0,797.0C2245.0,863.7 2248.5,882.8 2250.0,900.0" fill="none" stroke="#4343d6" stroke-width="1.4" />
<path d="M2218.0,0.0C2217.2,33.3 2213.2,136.7 2213.0,200.0C2212.8,263.3 2214.8,330.0 2217.0,380.0C2219.2,430.0 2222.0,430.5 2226.0,500.0C2230.0,569.5 2237.0,730.3 2241.0,797.0C2245.0,863.7 2248.5,882.8 2250.0,900.0" fill="none" stroke="#e4493c" stroke-width="1.4" stroke-dasharray="55 170" stroke-dashoffset="-60"/>
<path d="M2442.0,0.0C2448.2,44.2 2471.0,190.0 2479.0,265.0C2487.0,340.0 2488.5,390.0 2490.0,450.0C2491.5,510.0 2488.7,567.2 2488.0,625.0C2487.3,682.8 2486.3,751.2 2486.0,797.0C2485.7,842.8 2486.0,882.8 2486.0,900.0" fill="none" stroke="#4343d6" stroke-width="1.4" />
<path d="M2442.0,0.0C2448.2,44.2 2471.0,190.0 2479.0,265.0C2487.0,340.0 2488.5,390.0 2490.0,450.0C2491.5,510.0 2488.7,567.2 2488.0,625.0C2487.3,682.8 2486.3,751.2 2486.0,797.0C2485.7,842.8 2486.0,882.8 2486.0,900.0" fill="none" stroke="#e4493c" stroke-width="1.4" stroke-dasharray="55 170" stroke-dashoffset="-60"/>
<path d="M2547.0,0.0C2552.0,45.8 2570.3,200.0 2577.0,275.0C2583.7,350.0 2585.7,363.0 2587.0,450.0C2588.3,537.0 2585.0,722.0 2585.0,797.0C2585.0,872.0 2586.7,882.8 2587.0,900.0" fill="none" stroke="#4343d6" stroke-width="1.4" />
<path d="M2547.0,0.0C2552.0,45.8 2570.3,200.0 2577.0,275.0C2583.7,350.0 2585.7,363.0 2587.0,450.0C2588.3,537.0 2585.0,722.0 2585.0,797.0C2585.0,872.0 2586.7,882.8 2587.0,900.0" fill="none" stroke="#e4493c" stroke-width="1.4" stroke-dasharray="55 170" stroke-dashoffset="-60"/>
<path d="M0.0,295.0 L1393.0,742.0" fill="none" stroke="#e6de8e" stroke-width="1.2" />
<path d="M0.0,333.0 L1373.0,768.0" fill="none" stroke="#e6de8e" stroke-width="1.2" />
<path d="M1393.0,742.0 L2218.0,515.0" fill="none" stroke="#e6de8e" stroke-width="1.2" />
<path d="M1404.0,756.0 L2225.0,530.0" fill="none" stroke="#e6de8e" stroke-width="1.0" />
<path d="M1373.0,768.0C1380.8,781.7 1403.8,818.0 1420.0,850.0C1436.2,882.0 1453.3,920.0 1470.0,960.0C1486.7,1000.0 1505.2,1050.0 1520.0,1090.0C1534.8,1130.0 1550.3,1173.3 1559.0,1200.0C1567.7,1226.7 1566.8,1231.7 1572.0,1250.0C1577.2,1268.3 1584.8,1288.7 1590.0,1310.0C1595.2,1331.3 1597.8,1350.0 1603.0,1378.0C1608.2,1406.0 1616.3,1445.0 1621.0,1478.0C1625.7,1511.0 1629.3,1559.7 1631.0,1576.0" fill="none" stroke="#e6de8e" stroke-width="1.1" />
<path d="M1404.0,754.0C1410.0,763.3 1425.0,781.2 1440.0,810.0C1455.0,838.8 1475.7,885.3 1494.0,927.0C1512.3,968.7 1532.2,1014.5 1550.0,1060.0C1567.8,1105.5 1590.0,1168.3 1601.0,1200.0C1612.0,1231.7 1610.3,1230.0 1616.0,1250.0C1621.7,1270.0 1629.3,1298.7 1635.0,1320.0C1640.7,1341.3 1646.2,1351.7 1650.0,1378.0C1653.8,1404.3 1654.0,1445.0 1658.0,1478.0C1662.0,1511.0 1671.3,1559.7 1674.0,1576.0" fill="none" stroke="#e6de8e" stroke-width="1.1" />
<path d="M37.0,947.0 L1631.0,1551.0" fill="none" stroke="#8b8558" stroke-width="1.0" />
<path d="M15.0,980.0 L1636.0,1594.0" fill="none" stroke="#8b8558" stroke-width="1.0" />
<path d="M0.0,1497.0 L925.0,1851.0" fill="none" stroke="#e6de8e" stroke-width="1.2" />
<path d="M600.0,0.0 L2218.0,515.0" fill="none" stroke="#6a6540" stroke-width="2.0" />
<path d="M597.0,2.0 L2214.0,517.0" fill="none" stroke="#e0d98c" stroke-width="1.0" />
<path d="M556.0,0.0 L2185.0,524.0" fill="none" stroke="#c9c380" stroke-width="0.9" />
<path d="M945.0,1864.0 L1624.0,2081.0 L2010.0,1980.0" fill="none" stroke="#e6de8e" stroke-width="1.0" />
<path d="M2015.6,909.0C2013.0,916.8 2002.3,940.1 2000.0,955.6C1997.7,971.1 1998.1,986.4 2002.0,1002.0C2005.9,1017.6 2012.1,1033.4 2023.4,1049.0C2034.7,1064.6 2051.2,1083.3 2070.0,1095.6C2088.8,1107.9 2115.2,1117.0 2136.0,1122.8C2156.8,1128.6 2171.8,1131.2 2194.5,1130.6C2217.2,1130.0 2246.1,1124.8 2272.0,1119.0C2297.9,1113.2 2324.0,1104.7 2350.0,1095.6C2376.0,1086.5 2394.7,1076.8 2428.0,1064.5C2461.3,1052.2 2511.0,1030.5 2550.0,1021.7C2589.0,1013.0 2632.5,1014.5 2662.0,1012.0C2691.5,1009.5 2716.2,1007.8 2727.0,1007.0" fill="none" stroke="#f3d9b5" stroke-width="1.3" />
<path d="M2023.4,912.8C2022.4,919.9 2017.6,940.7 2017.6,955.6C2017.6,970.5 2018.6,987.1 2023.4,1002.0C2028.2,1016.9 2036.3,1032.0 2046.7,1045.0C2057.1,1058.0 2070.7,1069.7 2085.6,1080.0C2100.5,1090.3 2117.8,1100.8 2136.0,1107.0C2154.2,1113.2 2171.8,1117.0 2194.5,1117.0C2217.2,1117.0 2246.1,1113.2 2272.0,1107.0C2297.9,1100.8 2324.0,1089.7 2350.0,1080.0C2376.0,1070.3 2394.7,1061.3 2428.0,1049.0C2461.3,1036.7 2514.7,1016.7 2550.0,1006.0C2585.3,995.3 2613.0,989.0 2640.0,985.0C2667.0,981.0 2700.0,982.5 2712.0,982.0" fill="none" stroke="#f3d9b5" stroke-width="1.3" />
<path d="M1801.0,1547.0C1804.2,1539.2 1810.8,1514.2 1820.0,1500.0C1829.2,1485.8 1833.3,1476.7 1856.0,1462.0C1878.7,1447.3 1922.7,1420.3 1956.0,1412.0C1989.3,1403.7 2022.7,1406.2 2056.0,1412.0C2089.3,1417.8 2129.5,1430.7 2156.0,1447.0C2182.5,1463.3 2196.0,1487.2 2215.0,1510.0C2234.0,1532.8 2247.2,1546.5 2270.0,1584.0C2292.8,1621.5 2328.2,1689.5 2352.0,1735.0C2375.8,1780.5 2402.8,1836.7 2413.0,1857.0" fill="none" stroke="#f3d9b5" stroke-width="1.3" />
<path d="M1830.0,1545.0C1833.3,1539.2 1841.7,1520.8 1850.0,1510.0C1858.3,1499.2 1861.7,1491.7 1880.0,1480.0C1898.3,1468.3 1933.3,1447.3 1960.0,1440.0C1986.7,1432.7 2015.5,1434.3 2040.0,1436.0C2064.5,1437.7 2087.0,1436.8 2107.0,1450.0C2127.0,1463.2 2143.0,1492.7 2160.0,1515.0C2177.0,1537.3 2187.2,1548.7 2209.0,1584.0C2230.8,1619.3 2267.2,1684.8 2291.0,1727.0C2314.8,1769.2 2341.8,1818.7 2352.0,1837.0" fill="none" stroke="#f3d9b5" stroke-width="1.3" />
<path d="M2565.0,1340.0C2584.2,1325.0 2635.7,1270.8 2680.0,1250.0C2724.3,1229.2 2779.3,1216.7 2831.0,1215.0C2882.7,1213.3 2946.5,1225.8 2990.0,1240.0C3033.5,1254.2 3070.0,1265.0 3092.0,1300.0C3114.0,1335.0 3120.3,1399.8 3122.0,1450.0C3123.7,1500.2 3122.2,1550.8 3102.0,1601.0C3081.8,1651.2 3042.8,1706.7 3001.0,1751.0C2959.2,1795.3 2909.3,1839.3 2851.0,1867.0C2792.7,1894.7 2712.8,1907.3 2651.0,1917.0C2589.2,1926.7 2508.5,1923.7 2480.0,1925.0" fill="none" stroke="#f1cfa8" stroke-width="1.2" />
<path d="M2640.0,1300.0C2660.0,1290.0 2720.0,1251.3 2760.0,1240.0C2800.0,1228.7 2841.7,1228.3 2880.0,1232.0C2918.3,1235.7 2960.0,1245.7 2990.0,1262.0C3020.0,1278.3 3043.3,1298.7 3060.0,1330.0C3076.7,1361.3 3088.3,1405.0 3090.0,1450.0C3091.7,1495.0 3088.3,1551.7 3070.0,1600.0C3051.7,1648.3 3018.3,1698.3 2980.0,1740.0C2941.7,1781.7 2886.7,1824.2 2840.0,1850.0C2793.3,1875.8 2723.3,1887.5 2700.0,1895.0" fill="none" stroke="#f1cfa8" stroke-width="1.0" />
<path d="M2727.0,1007.0C2766.2,1029.5 2907.8,1109.8 2962.0,1142.0C3016.2,1174.2 3028.7,1177.8 3052.0,1200.0C3075.3,1222.2 3093.7,1262.5 3102.0,1275.0" fill="none" stroke="#f1cfa8" stroke-width="1.0" />
<g clip-path="url(#cpD)">
<path d="M2507.0,1571.0C2549.2,1565.8 2675.5,1551.0 2760.0,1540.0C2844.5,1529.0 2971.7,1510.8 3014.0,1505.0" fill="none" stroke="#d8cf8a" stroke-width="1.2" />
<path d="M2507.0,1682.0C2549.2,1677.5 2678.5,1666.0 2760.0,1655.0C2841.5,1644.0 2956.7,1622.5 2996.0,1616.0" fill="none" stroke="#d8cf8a" stroke-width="1.2" />
</g>
<ellipse cx="2715" cy="1582" rx="228" ry="340.5" transform="rotate(24.4 2715 1582)" fill="none" stroke="#f3d9b5" stroke-width="1.2" clip-path="none"/>
<ellipse cx="2810" cy="1548" rx="150" ry="300" transform="rotate(14 2810 1548)" fill="none" stroke="#f3d9b5" stroke-width="1.1"/>
<clipPath id="cpE"><ellipse cx="2061.7" cy="1784.4" rx="355" ry="150" transform="rotate(40.7 2061.7 1784.4)"/></clipPath>
<g clip-path="url(#cpE)">
<path d="M1771.0,1655.0 L2340.0,1930.0" fill="none" stroke="#c6e0b0" stroke-width="1.2" />
<path d="M1795.0,1740.0 L2345.0,1990.0" fill="none" stroke="#c9d6e8" stroke-width="1.2" />
<path d="M1890.0,1530.0 L1770.0,1660.0" fill="none" stroke="#c9d6e8" stroke-width="1.1" />
<path d="M1995.0,1555.0 L1840.0,1740.0" fill="none" stroke="#c9d6e8" stroke-width="1.1" />
<path d="M2075.0,1600.0 L1905.0,1810.0" fill="none" stroke="#c9d6e8" stroke-width="1.1" />
<path d="M2265.0,1790.0 L2165.0,2030.0" fill="none" stroke="#c9d6e8" stroke-width="1.1" />
<path d="M2340.0,1925.0 L2250.0,2060.0" fill="none" stroke="#c9d6e8" stroke-width="1.1" />
</g>
<path d="M2880.0,1263.0 L3168.0,1360.0 L3375.0,1430.0 L3468.0,1456.0" fill="none" stroke="#cdc47a" stroke-width="1.3" />
<path d="M2637.0,1930.0 L3468.0,2299.5" fill="none" stroke="#cdc47a" stroke-width="1.3" />
<path d="M2930.0,1290.0 L3468.0,1480.0" fill="none" stroke="#cdc47a" stroke-width="1.0" />
<path d="M2950.0,1305.0 L3468.0,1500.0" fill="none" stroke="#cdc47a" stroke-width="1.0" />
<path d="M2960.0,1320.0 L3468.0,1545.0" fill="none" stroke="#cdc47a" stroke-width="1.0" />
<path d="M2990.0,1500.0 L3468.0,1678.0" fill="none" stroke="#b4b6c0" stroke-width="1.0" />
<path d="M2900.0,1760.0 L3468.0,1955.0" fill="none" stroke="#b4b6c0" stroke-width="1.0" />
<path d="M2930.0,1615.0 L3468.0,1790.0" fill="none" stroke="#cdc47a" stroke-width="1.0" />
<path d="M2840.0,1845.0 L3468.0,2074.0" fill="none" stroke="#cdc47a" stroke-width="1.0" />
<path d="M2700.0,1935.0 L3468.0,2260.0" fill="none" stroke="#cdc47a" stroke-width="1.0" />
<path d="M2760.0,1915.0 L3468.0,2200.0" fill="none" stroke="#cdc47a" stroke-width="1.0" />
<ellipse cx="3130" cy="1738" rx="275" ry="360" transform="rotate(18 3130 1738)" fill="none" stroke="#cdc47a" stroke-width="1.0"/>
<ellipse cx="3400" cy="1815" rx="340" ry="372" transform="rotate(18 3400 1815)" fill="none" stroke="#cdc47a" stroke-width="1.0"/>
<ellipse cx="3640" cy="1900" rx="330" ry="372" transform="rotate(18 3640 1900)" fill="none" stroke="#cdc47a" stroke-width="1.0"/>
<clipPath id="cpT"><polygon points="1311,1900 2079,1900 2079,2392 1303,2392"/></clipPath>
<g clip-path="url(#cpT)" opacity="0.7">
<path d="M1346.0,2392.0 L1656.0,1900.0" fill="none" stroke="#d3e3da" stroke-width="1.1" />
<path d="M1436.0,2392.0 L1746.0,1900.0" fill="none" stroke="#d3e3da" stroke-width="1.1" />
<path d="M1466.0,2392.0 L1776.0,1900.0" fill="none" stroke="#d3e3da" stroke-width="1.1" />
<path d="M1661.0,2392.0 L1971.0,1900.0" fill="none" stroke="#d3e3da" stroke-width="1.1" />
<path d="M1731.0,2392.0 L2041.0,1900.0" fill="none" stroke="#d3e3da" stroke-width="1.1" />
<path d="M1761.0,2392.0 L2071.0,1900.0" fill="none" stroke="#d3e3da" stroke-width="1.1" />
<path d="M1806.0,2392.0 L2116.0,1900.0" fill="none" stroke="#d3e3da" stroke-width="1.1" />
<path d="M1856.0,2392.0 L2166.0,1900.0" fill="none" stroke="#d3e3da" stroke-width="1.1" />
<path d="M1876.0,2392.0 L2186.0,1900.0" fill="none" stroke="#d3e3da" stroke-width="1.1" />
<path d="M1896.0,2392.0 L2206.0,1900.0" fill="none" stroke="#d3e3da" stroke-width="1.1" />
<path d="M1310.0,2180.0C1315.0,2168.3 1325.0,2127.5 1340.0,2110.0C1355.0,2092.5 1376.7,2080.8 1400.0,2075.0C1423.3,2069.2 1446.7,2067.5 1480.0,2075.0C1513.3,2082.5 1546.7,2090.8 1600.0,2120.0C1653.3,2149.2 1740.0,2204.7 1800.0,2250.0C1860.0,2295.3 1933.3,2368.3 1960.0,2392.0" fill="none" stroke="#d3e3da" stroke-width="1.1" />
<path d="M1305.0,2250.0C1320.8,2253.3 1364.2,2256.7 1400.0,2270.0C1435.8,2283.3 1483.3,2309.7 1520.0,2330.0C1556.7,2350.3 1603.3,2381.7 1620.0,2392.0" fill="none" stroke="#d3e3da" stroke-width="1.1" />
<path d="M1455.0,2040.0C1462.5,2055.0 1482.5,2100.0 1500.0,2130.0C1517.5,2160.0 1533.3,2186.7 1560.0,2220.0C1586.7,2253.3 1630.0,2301.3 1660.0,2330.0C1690.0,2358.7 1726.7,2381.7 1740.0,2392.0" fill="none" stroke="#d3e3da" stroke-width="1.1" />
<path d="M1900.0,2060.0C1913.3,2073.3 1956.7,2108.3 1980.0,2140.0C2003.3,2171.7 2025.0,2208.0 2040.0,2250.0C2055.0,2292.0 2065.0,2368.3 2070.0,2392.0" fill="none" stroke="#d3e3da" stroke-width="1.1" />
<path d="M1460.0,2040.0C1476.7,2035.0 1520.0,2010.0 1560.0,2010.0C1600.0,2010.0 1650.0,2021.7 1700.0,2040.0C1750.0,2058.3 1811.7,2088.3 1860.0,2120.0C1908.3,2151.7 1956.7,2195.0 1990.0,2230.0C2023.3,2265.0 2048.3,2313.3 2060.0,2330.0" fill="none" stroke="#d3e3da" stroke-width="1.1" />
</g>
<path d="M1870.2,2060.0 L1989.9,1870.0" fill="none" stroke="#d9e2cf" stroke-width="1.0" opacity="0.55"/>
<path d="M1940.2,2060.0 L2059.9,1870.0" fill="none" stroke="#d9e2cf" stroke-width="1.0" opacity="0.55"/>
<path d="M1970.2,2060.0 L2089.9,1870.0" fill="none" stroke="#d9e2cf" stroke-width="1.0" opacity="0.55"/>
<path d="M2015.2,2060.0 L2134.9,1870.0" fill="none" stroke="#d9e2cf" stroke-width="1.0" opacity="0.55"/>
<path d="M2065.2,2060.0 L2184.9,1870.0" fill="none" stroke="#d9e2cf" stroke-width="1.0" opacity="0.55"/>
<path d="M1500.0,2010.0C1510.0,2001.7 1536.7,1972.5 1560.0,1960.0C1583.3,1947.5 1610.0,1936.7 1640.0,1935.0C1670.0,1933.3 1705.0,1939.2 1740.0,1950.0C1775.0,1960.8 1813.3,1979.2 1850.0,2000.0C1886.7,2020.8 1941.7,2062.5 1960.0,2075.0" fill="none" stroke="#e6ead8" stroke-width="1.0" opacity="0.6"/>
<polygon points="1334.0,1903.0 1466.0,1903.0 1517.0,1967.2 1466.0,2031.5 1334.0,2031.5" fill="#ffffff" stroke="#8a8a8a" stroke-width="1"/>
<text transform="translate(1361.22,2001) scale(0.8946,1)" font-size="82" >A</text>
<polygon points="1686.0,1107.0 1801.0,1107.0 1847.5,1171.2 1801.0,1235.5 1686.0,1235.5" fill="#ffffff" stroke="#8a8a8a" stroke-width="1"/>
<text transform="translate(1710.69,1204.5) scale(0.7855,1)" font-size="82" >B</text>
<clipPath id="cpC"><rect x="2400" y="800" width="84.5" height="160"/></clipPath>
<polygon points="2413.7,814.3 2538.2,814.3 2587.0,878.8 2538.2,943.4 2413.7,943.4" fill="#ffffff" stroke="#8a8a8a" stroke-width="1"/>
<text transform="translate(2438.04,912.5) scale(0.8927,1)" font-size="82" >C</text>
<polygon points="2483.0,1373.0 2630.6,1373.0 2685.7,1437.7 2630.6,1502.3 2483.0,1502.3" fill="#ffffff" stroke="#8a8a8a" stroke-width="1"/>
<text transform="translate(2514.02,1470.7) scale(0.9283,1)" font-size="82" >D</text>
<polygon points="1843.4,1579.5 1946.4,1579.5 1986.4,1643.5 1946.4,1707.4 1843.4,1707.4" fill="#ffffff" stroke="#8a8a8a" stroke-width="1"/>
<text transform="translate(1866.59,1676.4) scale(0.6519,1)" font-size="82" >E</text>
<polygon points="2284.6,643.4 2429.7,643.4 2486.8,707.8 2429.7,772.2 2284.6,772.2" fill="#ffffff" stroke="#8a8a8a" stroke-width="1"/>
<text transform="translate(2313.14,741.6) scale(0.9690,1)" font-size="82" >H</text>
<polygon points="2445.5,624.3 2545.7,624.3 2585.8,688.6 2545.7,752.9 2445.5,752.9" fill="#ffffff" stroke="#8a8a8a" stroke-width="1"/>
<text transform="translate(2466.71,722.8) scale(0.7530,1)" font-size="82" >F</text>
<path d="M2445.5,668.0 L2486.8,707.3 L2445.5,752.0" fill="none" stroke="#9a9a9a" stroke-width="1" />
<rect x="2485" y="814" width="54" height="129" fill="#ffffff"/>
<polygon points="2538.2,814.8 2586.0,878.2 2538.2,942.9" fill="#ffffff" />
<path d="M2484.8,625.0 L2484.8,753.0" fill="none" stroke="#b9b9ee" stroke-width="1.2" />
<path d="M2484.8,815.0 L2484.8,943.0" fill="none" stroke="#c9c9f0" stroke-width="1.2" />
<path d="M2484.8,846.0 L2484.8,885.0" fill="none" stroke="#e8332a" stroke-width="1.6" />
<text transform="translate(107.38,188.6) scale(0.9858,1)" font-size="83.5" font-weight="bold">Verbund</text>
<text transform="translate(460.71,188.6) scale(1.0150,1)" font-size="83.5" font-weight="bold">-</text>
<text transform="translate(511.26,188.6) scale(0.9714,1)" font-size="83.5" font-weight="bold">Gondel</text>
<text transform="translate(807.59,188.6) scale(0.9232,1)" font-size="83.5" font-weight="bold">bis</text>
<text transform="translate(937.44,188.6) scale(1.0166,1)" font-size="83.5" font-weight="bold">Turm</text>
<rect x="108.5" y="324.5" width="108" height="108" fill="#ff3333" stroke="#2a0505" stroke-width="1"/>
<text transform="translate(132.94,405.8) scale(1.0000,1)" font-size="83.5" font-weight="bold">A</text>
<text transform="translate(258.99,405.4) scale(0.9915,1)" font-size="83.5">Verbund</text>
<text transform="translate(593.11,405.4) scale(0.9285,1)" font-size="83.5">-</text>
<text transform="translate(642.38,405.4) scale(0.9619,1)" font-size="83.5">Gondel</text>
<text transform="translate(926.72,405.4) scale(0.9184,1)" font-size="83.5">bis</text>
<text transform="translate(1046.16,405.4) scale(0.9809,1)" font-size="83.5">Turm</text>
<rect x="108.5" y="459.5" width="108" height="108" fill="#ff3333" stroke="#2a0505" stroke-width="1"/>
<text transform="translate(131.90,540.8) scale(1.0000,1)" font-size="83.5" font-weight="bold">B</text>
<text transform="translate(258.99,540.4) scale(0.9915,1)" font-size="83.5">Verbund</text>
<text transform="translate(593.11,540.4) scale(0.9285,1)" font-size="83.5">-</text>
<text transform="translate(642.38,540.4) scale(0.9619,1)" font-size="83.5">Gondel</text>
<text transform="translate(926.72,540.4) scale(0.9184,1)" font-size="83.5">bis</text>
<text transform="translate(1047.06,540.4) scale(0.9160,1)" font-size="83.5">Spinner</text>
<rect x="108.5" y="594.5" width="108" height="108" fill="#ff3333" stroke="#2a0505" stroke-width="1"/>
<text transform="translate(132.31,675.8) scale(1.0000,1)" font-size="83.5" font-weight="bold">C</text>
<text transform="translate(258.99,675.4) scale(0.9915,1)" font-size="83.5">Verbund</text>
<text transform="translate(593.11,675.4) scale(0.9285,1)" font-size="83.5">-</text>
<text transform="translate(642.19,675.4) scale(0.9888,1)" font-size="83.5">Rotorblatt</text>
<text transform="translate(1025.98,675.4) scale(0.9255,1)" font-size="83.5">bis</text>
<text transform="translate(1151.08,675.4) scale(0.9376,1)" font-size="83.5">Spinner</text>
<rect x="108.5" y="729.5" width="108" height="108" fill="#ff3333" stroke="#2a0505" stroke-width="1"/>
<text transform="translate(131.79,810.8) scale(1.0000,1)" font-size="83.5" font-weight="bold">D</text>
<text transform="translate(258.99,810.4) scale(0.9915,1)" font-size="83.5">Verbund</text>
<text transform="translate(593.11,810.4) scale(0.9285,1)" font-size="83.5">-</text>
<text transform="translate(642.19,810.4) scale(0.9888,1)" font-size="83.5">Rotorblatt</text>
<text transform="translate(1025.98,810.4) scale(0.9255,1)" font-size="83.5">bis</text>
<text transform="translate(1151.08,810.4) scale(0.9376,1)" font-size="83.5">Spinner</text>
<rect x="108.5" y="864.5" width="108" height="108" fill="#ff3333" stroke="#2a0505" stroke-width="1"/>
<text transform="translate(133.98,945.8) scale(1.0000,1)" font-size="83.5" font-weight="bold">E</text>
<text transform="translate(258.99,945.4) scale(0.9915,1)" font-size="83.5">Verbund</text>
<text transform="translate(593.11,945.4) scale(0.9285,1)" font-size="83.5">-</text>
<text transform="translate(642.19,945.4) scale(0.9888,1)" font-size="83.5">Rotorblatt</text>
<text transform="translate(1025.98,945.4) scale(0.9255,1)" font-size="83.5">bis</text>
<text transform="translate(1151.08,945.4) scale(0.9376,1)" font-size="83.5">Spinner</text>
<rect x="108.5" y="999.5" width="108" height="108" fill="#ff3333" stroke="#2a0505" stroke-width="1"/>
<text transform="translate(136.18,1080.8) scale(1.0000,1)" font-size="83.5" font-weight="bold">F</text>
<text transform="translate(258.99,1080.4) scale(0.9915,1)" font-size="83.5">Verbund</text>
<text transform="translate(593.11,1080.4) scale(0.9285,1)" font-size="83.5">-</text>
<text transform="translate(642.19,1080.4) scale(0.9888,1)" font-size="83.5">Rotorblatt</text>
<text transform="translate(1025.98,1080.4) scale(0.9255,1)" font-size="83.5">bis</text>
<text transform="translate(1147.74,1080.4) scale(0.9953,1)" font-size="83.5">Rotorblatt</text>
<rect x="108.5" y="1134.5" width="108" height="108" fill="#ff3333" stroke="#2a0505" stroke-width="1"/>
<text transform="translate(131.48,1215.8) scale(1.0000,1)" font-size="83.5" font-weight="bold">G</text>
<text transform="translate(258.99,1215.4) scale(0.9915,1)" font-size="83.5">Verbund</text>
<text transform="translate(593.11,1215.4) scale(0.9285,1)" font-size="83.5">-</text>
<text transform="translate(642.19,1215.4) scale(0.9888,1)" font-size="83.5">Rotorblatt</text>
<text transform="translate(1025.98,1215.4) scale(0.9255,1)" font-size="83.5">bis</text>
<text transform="translate(1147.74,1215.4) scale(0.9953,1)" font-size="83.5">Rotorblatt</text>
<rect x="108.5" y="1269.5" width="108" height="108" fill="#ff3333" stroke="#2a0505" stroke-width="1"/>
<text transform="translate(132.84,1350.8) scale(1.0000,1)" font-size="83.5" font-weight="bold">H</text>
<text transform="translate(258.99,1350.4) scale(0.9915,1)" font-size="83.5">Verbund</text>
<text transform="translate(593.11,1350.4) scale(0.9285,1)" font-size="83.5">-</text>
<text transform="translate(642.19,1350.4) scale(0.9888,1)" font-size="83.5">Rotorblatt</text>
<text transform="translate(1025.98,1350.4) scale(0.9255,1)" font-size="83.5">bis</text>
<text transform="translate(1147.74,1350.4) scale(0.9953,1)" font-size="83.5">Rotorblatt</text>
<rect x="108.5" y="1404.5" width="108" height="108" fill="#ff3333" stroke="#2a0505" stroke-width="1"/>
<text transform="translate(163,1485.8) scale(0.64,1)" font-size="83.5" font-weight="bold" text-anchor="middle" style="font-family:'Liberation Mono',monospace">I</text>
<text transform="translate(258.99,1485.4) scale(0.9915,1)" font-size="83.5">Verbund</text>
<text transform="translate(593.11,1485.4) scale(0.9285,1)" font-size="83.5">-</text>
<text transform="translate(642.19,1485.4) scale(0.9888,1)" font-size="83.5">Rotorblatt</text>
<text transform="translate(1025.98,1485.4) scale(0.9255,1)" font-size="83.5">bis</text>
<text transform="translate(1147.74,1485.4) scale(0.9953,1)" font-size="83.5">Rotorblatt</text>
</svg>
</body></html>
